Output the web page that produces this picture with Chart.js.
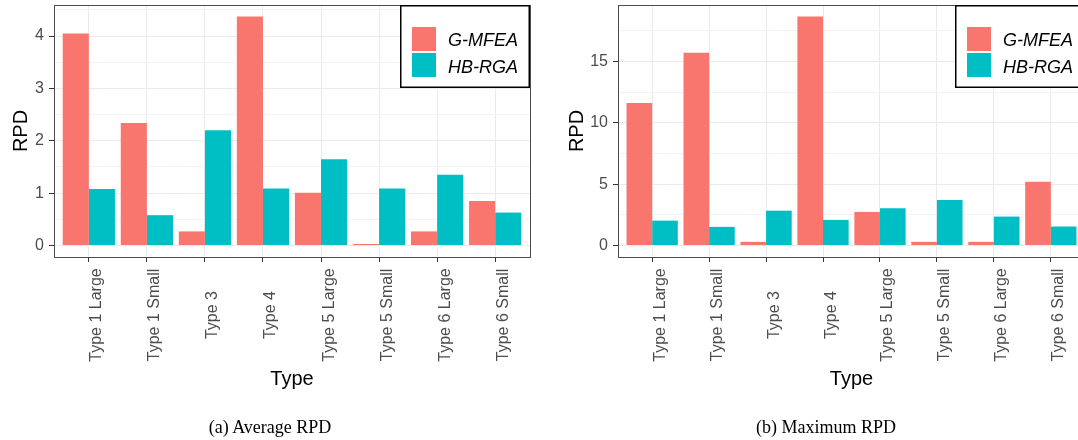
<!DOCTYPE html>
<html>
<head>
<meta charset="utf-8">
<script src="https://cdn.jsdelivr.net/npm/chart.js"></script>
<style>
  body { margin: 0; width: 1078px; height: 440px; overflow: hidden; background: #fff; position: relative; }
  canvas { position: absolute; top: 0; }
  #avgChart { left: 0; }
  #maxChart { left: 540px; }
  .caption { position: absolute; top: 417px; font: 18px "Liberation Serif", "Times New Roman", serif; line-height: 20px; text-align: center; color: #000; }
</style>
</head>
<body>
<canvas id="avgChart" width="540" height="440"></canvas>
<canvas id="maxChart" width="560" height="440"></canvas>
<div class="caption" style="left:0;width:540px">(a) Average RPD</div>
<div class="caption" style="left:540px;width:572px">(b) Maximum RPD</div>
<script>
const types = ["Type 1 Large", "Type 1 Small", "Type 3", "Type 4", "Type 5 Large", "Type 5 Small", "Type 6 Large", "Type 6 Small"];
const seriesNames = ["G-MFEA", "HB-RGA"];

// (a) average RPD
const avgGMFEA = [4.05, 2.34, 0.27, 4.375, 1.01, 0.03, 0.27, 0.85];
const avgHBRGA = [1.08, 0.58, 2.20, 1.09, 1.65, 1.09, 1.35, 0.63];
const avgTicks = [0, 1, 2, 3, 4];

// (b) maximum RPD
const maxGMFEA = [11.62, 15.71, 0.30, 18.66, 2.74, 0.30, 0.30, 5.20];
const maxHBRGA = [2.03, 1.52, 2.84, 2.09, 3.04, 3.71, 2.36, 1.55];
const maxTicks = [0, 5, 10, 15];

const FONT = "'Liberation Sans', Arial, sans-serif";
Chart.defaults.font.family = FONT;

// ggplot-ish decorations: panel border, rotated x labels, axis titles, inset legend
const ggDecor = {
  id: "ggDecor",
  afterDraw(chart, args, opts) {
    const { ctx, chartArea: a, scales } = chart;
    ctx.save();
    ctx.strokeStyle = "#4d4d4d";
    ctx.lineWidth = 1;
    ctx.strokeRect(a.left + 0.5, a.top + 0.5, a.right - a.left, a.bottom - a.top);

    // category labels, rotated and centred
    ctx.fillStyle = "#4d4d4d";
    ctx.font = "16px " + FONT;
    ctx.textAlign = "center";
    ctx.textBaseline = "alphabetic";
    chart.data.labels.forEach((t, i) => {
      const x = scales.x.getPixelForValue(i);
      ctx.save();
      ctx.translate(x + 12.5, 315);
      ctx.rotate(-Math.PI / 2);
      ctx.fillText(t, 0, 0);
      ctx.restore();
    });

    // axis titles
    ctx.fillStyle = "#000";
    ctx.font = "20px " + FONT;
    ctx.fillText("Type", (a.left + a.right) / 2, 385);
    ctx.save();
    ctx.translate(opts.yTitleX, (a.top + a.bottom) / 2);
    ctx.rotate(-Math.PI / 2);
    ctx.fillText("RPD", 0, 0);
    ctx.restore();

    // legend box in the top-right corner of the panel
    const bw = 130, bh = 83;
    const bx = a.right - bw, by = a.top;
    ctx.fillStyle = "#fff";
    ctx.fillRect(bx, by, bw, bh);
    ctx.strokeStyle = "#000";
    ctx.lineWidth = 1.5;
    ctx.strokeRect(bx + 0.75, by + 0.75, bw - 1.5, bh - 1.5);
    ctx.font = "italic 18px " + FONT;
    ctx.textAlign = "left";
    chart.data.datasets.forEach((ds, i) => {
      ctx.fillStyle = ds.backgroundColor;
      ctx.fillRect(bx + 12, by + 22 + i * 26, 24, 24);
      ctx.fillStyle = "#000";
      ctx.fillText(ds.label, bx + 48, by + 41 + i * 27);
    });
    ctx.restore();
  }
};

function makeChart(id, gm, hb, majorTicks, minorStep, axisW, padRight, yTitleX) {
  const yMax = Math.max(...gm, ...hb);
  const pad = yMax * 0.05;
  const isMajor = v => majorTicks.includes(v);

  new Chart(document.getElementById(id), {
    type: "bar",
    data: {
      labels: types,
      datasets: [
        { label: seriesNames[0], data: gm.map((v, i) => ({ x: i, y: v })), backgroundColor: "#F8766D" },
        { label: seriesNames[1], data: hb.map((v, i) => ({ x: i, y: v })), backgroundColor: "#00BFC4" },
      ],
    },
    options: {
      responsive: false,
      animation: false,
      barPercentage: 1,
      categoryPercentage: 0.9,
      layout: { padding: { left: 0, top: 5, right: padRight, bottom: 0 } },
      plugins: {
        legend: { display: false },
        tooltip: { enabled: false },
        ggDecor: { yTitleX: yTitleX },
      },
      scales: {
        x: {
          type: "linear",
          offset: false,
          min: -0.6,
          max: types.length - 0.4,
          afterBuildTicks: s => { s.ticks = types.map((_, i) => ({ value: i })); },
          afterFit: s => { s.height = 183; s.paddingLeft = 0; s.paddingRight = 0; },
          border: { display: false },
          grid: { offset: false, color: "#ebebeb", tickColor: "#333", tickLength: 5 },
          ticks: { display: false },
        },
        y: {
          min: -pad,
          max: yMax + pad,
          afterBuildTicks: s => {
            const t = [];
            for (let v = 0; v <= s.max; v += minorStep) t.push({ value: +v.toFixed(3) });
            s.ticks = t;
          },
          afterFit: s => { s.width = axisW; s.paddingTop = 0; s.paddingBottom = 0; },
          border: { display: false },
          grid: {
            color: c => isMajor(c.tick.value) ? "#ebebeb" : "#f3f3f3",
            tickColor: c => isMajor(c.tick.value) ? "#333" : "rgba(0,0,0,0)",
            tickLength: 5,
          },
          ticks: {
            autoSkip: false,
            padding: 5,
            color: "#4d4d4d",
            font: { size: 16 },
            callback: v => isMajor(v) ? String(v) : "",
          },
        },
      },
    },
    plugins: [ggDecor],
  });
}

makeChart("avgChart", avgGMFEA, avgHBRGA, avgTicks, 0.5, 54, 10, 26.5);
makeChart("maxChart", maxGMFEA, maxHBRGA, maxTicks, 2.5, 78, 15, 43);
</script>
</body>
</html>
